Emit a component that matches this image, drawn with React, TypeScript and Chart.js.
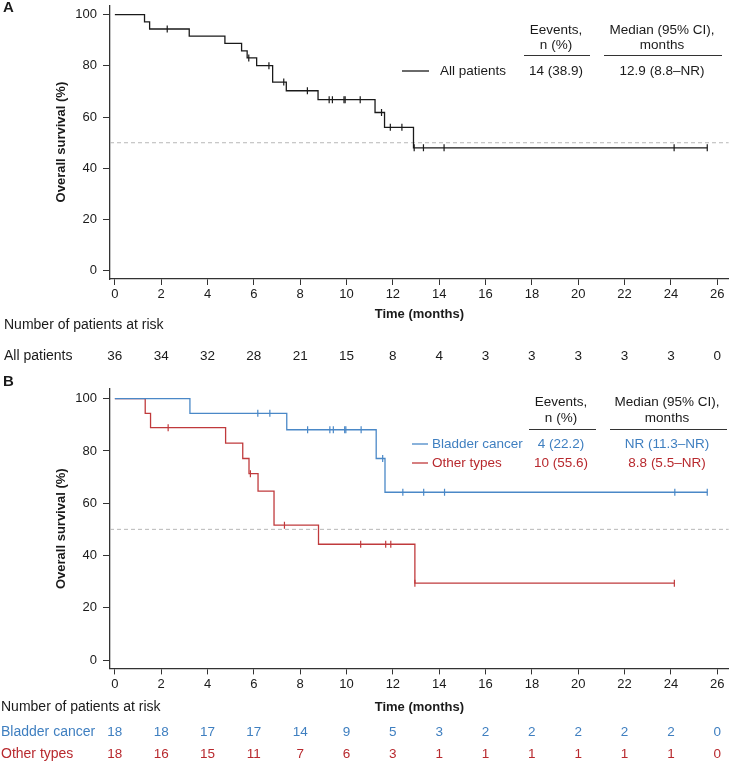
import React, { useEffect, useRef } from "react";
import { Chart, registerables } from "chart.js";

Chart.register(...registerables);

const FONT = "'Liberation Sans', Arial, Helvetica, sans-serif";
Chart.defaults.font.family = FONT;

// ---------- shared axes ----------
const timeTicks = [0, 2, 4, 6, 8, 10, 12, 14, 16, 18, 20, 22, 24, 26];
const survivalTicks = [0, 20, 40, 60, 80, 100];
const xRange = [-0.21, 26.5];
const yRange = [-3.2, 103.7];
const medianLevel = 50;

// ---------- Panel A: all patients ----------
const allTimes = [0, 1.28, 1.5, 3.21, 4.75, 5.47, 5.71, 6.12, 6.81, 7.4, 8.77, 11.23, 11.64, 12.89, 25.57];
const allSurv = [100, 97.2, 94.4, 91.6, 88.8, 85.9, 83.1, 80.1, 73.7, 70.3, 66.8, 61.8, 56.0, 48.0, 48.0];
const allCensorTimes = [2.26, 5.78, 6.65, 7.29, 8.31, 9.25, 9.39, 9.89, 9.94, 10.59, 11.51, 11.89, 12.39, 12.92, 13.32, 14.21, 24.14, 25.57];
const riskAll = [36, 34, 32, 28, 21, 15, 8, 4, 3, 3, 3, 3, 3, 0];

// ---------- Panel B: bladder cancer vs other types ----------
const bladderTimes = [0, 3.24, 7.42, 11.28, 11.66, 25.57];
const bladderSurv = [100, 94.4, 88.1, 77.1, 64.2, 64.2];
const bladderCensorTimes = [6.17, 6.69, 8.32, 9.28, 9.43, 9.92, 9.97, 10.63, 11.56, 12.43, 13.33, 14.23, 24.17, 25.57];
const otherTimes = [0, 1.31, 1.54, 4.78, 5.52, 5.79, 6.18, 6.87, 8.79, 12.95, 24.15];
const otherSurv = [100, 94.4, 88.9, 83.0, 77.1, 71.3, 64.6, 51.6, 44.3, 29.4, 29.4];
const otherCensorTimes = [2.3, 5.85, 7.32, 10.61, 11.69, 11.91, 12.95, 24.15];
const riskBladder = [18, 18, 17, 17, 14, 9, 5, 3, 2, 2, 2, 2, 2, 0];
const riskOther = [18, 16, 15, 11, 7, 6, 3, 1, 1, 1, 1, 1, 1, 0];

// ---------- text ----------
const eventsHeader = ["Eevents,", "n (%)"];
const medianHeader = ["Median (95% CI),", "months"];
const groupA = "All patients";
const eventsA = "14 (38.9)";
const medianA = "12.9 (8.8–NR)";
const groupsB = ["Bladder cancer", "Other types"];
const eventsB = ["4 (22.2)", "10 (55.6)"];
const mediansB = ["NR (11.3–NR)", "8.8 (5.5–NR)"];
const riskTitle = "Number of patients at risk";
const yTitle = "Overall survival (%)";
const xTitle = "Time (months)";

// ---------- colours ----------
const BLACK = "#1a1a1a";
const AXIS = "#333333";
const BLUE_LINE = "#4a88c7";
const RED_LINE = "#c03a3c";
const BLUE_TEXT = "#3f7fc0";
const RED_TEXT = "#b8292e";

function survAt(times: number[], surv: number[], t: number) {
  let s = surv[0];
  for (let i = 0; i < times.length; i++) if (times[i] <= t) s = surv[i];
  return s;
}

function kmDatasets(times: number[], surv: number[], censors: number[], color: string) {
  return [
    {
      type: "line",
      data: times.map((t, i) => ({ x: t, y: surv[i] })),
      stepped: true,
      borderColor: color,
      borderWidth: 1.3,
      pointRadius: 0,
      fill: false,
      order: 2,
    },
    {
      type: "line",
      showLine: false,
      data: censors.map((t) => ({ x: t, y: survAt(times, surv, t) })),
      pointStyle: "line",
      rotation: 90,
      pointRadius: 3.5,
      borderColor: color,
      pointBorderColor: color,
      pointBorderWidth: 1.2,
      order: 1,
    },
  ];
}

function medianDataset() {
  return {
    type: "line",
    data: [
      { x: xRange[0], y: medianLevel },
      { x: xRange[1], y: medianLevel },
    ],
    borderColor: "#b8b8b8",
    borderDash: [4, 3],
    borderWidth: 1,
    pointRadius: 0,
    order: 5,
  };
}

function drawText(
  ctx: CanvasRenderingContext2D,
  s: string,
  x: number,
  y: number,
  opts: { align?: CanvasTextAlign; color?: string; size?: number; bold?: boolean } = {}
) {
  const { align = "left", color = BLACK, size = 13.5, bold = false } = opts;
  ctx.font = `${bold ? "bold " : ""}${size}px ${FONT}`;
  ctx.fillStyle = color;
  ctx.textAlign = align;
  ctx.textBaseline = "middle";
  ctx.fillText(s, x, y);
}

function hline(ctx: CanvasRenderingContext2D, x1: number, x2: number, y: number, color: string, w = 1) {
  ctx.strokeStyle = color;
  ctx.lineWidth = w;
  ctx.beginPath();
  ctx.moveTo(x1, y);
  ctx.lineTo(x2, y);
  ctx.stroke();
}

function makeOptions(padding: any, xHeight: number) {
  return {
    responsive: false,
    animation: false,
    events: [],
    layout: { padding },
    plugins: { legend: { display: false }, tooltip: { enabled: false } },
    scales: {
      x: {
        type: "linear",
        min: xRange[0],
        max: xRange[1],
        afterBuildTicks: (axis: any) => {
          axis.ticks = timeTicks.map((v) => ({ value: v }));
        },
        afterFit: (axis: any) => {
          axis.height = xHeight;
          axis.paddingLeft = 0;
          axis.paddingRight = 0;
        },
        grid: { drawOnChartArea: false, drawTicks: true, tickLength: 6, color: AXIS, lineWidth: 1 },
        border: { display: true, color: AXIS, width: 1.3 },
        ticks: {
          padding: 2,
          maxRotation: 0,
          autoSkip: false,
          color: BLACK,
          font: { size: 13 },
          callback: (v: any) => String(v),
        },
        title: {
          display: true,
          text: xTitle,
          color: BLACK,
          font: { size: 13, weight: "bold" },
          padding: { top: 0, bottom: 0 },
        },
      },
      y: {
        type: "linear",
        min: yRange[0],
        max: yRange[1],
        afterBuildTicks: (axis: any) => {
          axis.ticks = survivalTicks.map((v) => ({ value: v }));
        },
        afterFit: (axis: any) => {
          axis.width = 110;
          axis.paddingTop = 0;
          axis.paddingBottom = 0;
        },
        grid: { drawOnChartArea: false, drawTicks: true, tickLength: 7, color: AXIS, lineWidth: 1 },
        border: { display: true, color: AXIS, width: 1.3 },
        ticks: { padding: 6, color: BLACK, font: { size: 13 }, callback: (v: any) => String(v) },
        title: {
          display: true,
          text: yTitle,
          color: BLACK,
          font: { size: 13, weight: "bold" },
          padding: { top: 54, bottom: 0 },
        },
      },
    },
  };
}

const panelAPlugin = {
  id: "panelADecor",
  afterDraw(chart: any) {
    const ctx = chart.ctx as CanvasRenderingContext2D;
    const xs = chart.scales.x;
    ctx.save();
    drawText(ctx, "A", 3, 8, { bold: true, size: 15 });
    // legend table
    drawText(ctx, eventsHeader[0], 556, 30, { align: "center" });
    drawText(ctx, eventsHeader[1], 556, 45, { align: "center" });
    drawText(ctx, medianHeader[0], 662, 30, { align: "center" });
    drawText(ctx, medianHeader[1], 662, 45, { align: "center" });
    hline(ctx, 524, 590, 55.5, AXIS);
    hline(ctx, 604, 722, 55.5, AXIS);
    hline(ctx, 402, 429, 71, BLACK, 1.3);
    drawText(ctx, groupA, 440, 71);
    drawText(ctx, eventsA, 556, 71, { align: "center" });
    drawText(ctx, medianA, 662, 71, { align: "center" });
    // risk table
    drawText(ctx, riskTitle, 4, 325, { size: 14 });
    drawText(ctx, groupA, 4, 356, { size: 14 });
    timeTicks.forEach((t, i) => {
      drawText(ctx, String(riskAll[i]), xs.getPixelForValue(t), 356, { align: "center", size: 13.5 });
    });
    ctx.restore();
  },
};

const panelBPlugin = {
  id: "panelBDecor",
  afterDraw(chart: any) {
    const ctx = chart.ctx as CanvasRenderingContext2D;
    const xs = chart.scales.x;
    ctx.save();
    drawText(ctx, "B", 3, 7, { bold: true, size: 15 });
    drawText(ctx, eventsHeader[0], 561, 27, { align: "center" });
    drawText(ctx, eventsHeader[1], 561, 43, { align: "center" });
    drawText(ctx, medianHeader[0], 667, 27, { align: "center" });
    drawText(ctx, medianHeader[1], 667, 43, { align: "center" });
    hline(ctx, 529, 596, 54.5, AXIS);
    hline(ctx, 610, 727, 54.5, AXIS);
    const rowY = [69, 88];
    const lineCols = [BLUE_LINE, RED_LINE];
    const textCols = [BLUE_TEXT, RED_TEXT];
    rowY.forEach((y, i) => {
      hline(ctx, 412, 428, y, lineCols[i], 1.3);
      drawText(ctx, groupsB[i], 432, y, { color: textCols[i] });
      drawText(ctx, eventsB[i], 561, y, { align: "center", color: textCols[i] });
      drawText(ctx, mediansB[i], 667, y, { align: "center", color: textCols[i] });
    });
    // risk table
    drawText(ctx, riskTitle, 1, 332, { size: 14 });
    const risks = [riskBladder, riskOther];
    const riskY = [357, 379];
    risks.forEach((row, r) => {
      drawText(ctx, groupsB[r], 1, riskY[r], { size: 14, color: textCols[r] });
      timeTicks.forEach((t, i) => {
        drawText(ctx, String(row[i]), xs.getPixelForValue(t), riskY[r], {
          align: "center",
          size: 13.5,
          color: textCols[r],
        });
      });
    });
    ctx.restore();
  },
};

export default function App() {
  const refA = useRef<HTMLCanvasElement | null>(null);
  const refB = useRef<HTMLCanvasElement | null>(null);

  useEffect(() => {
    const chartA = new Chart(refA.current as HTMLCanvasElement, {
      type: "line",
      data: {
        datasets: [medianDataset(), ...kmDatasets(allTimes, allSurv, allCensorTimes, BLACK)] as any,
      },
      options: makeOptions({ top: 0, right: 0, left: 0, bottom: 53.2 }, 42.8) as any,
      plugins: [panelAPlugin],
    });
    const chartB = new Chart(refB.current as HTMLCanvasElement, {
      type: "line",
      data: {
        datasets: [
          medianDataset(),
          ...kmDatasets(bladderTimes, bladderSurv, bladderCensorTimes, BLUE_LINE),
          ...kmDatasets(otherTimes, otherSurv, otherCensorTimes, RED_LINE),
        ] as any,
      },
      options: makeOptions({ top: 14, right: 0, left: 0, bottom: 47.2 }, 46.4) as any,
      plugins: [panelBPlugin],
    });
    return () => {
      chartA.destroy();
      chartB.destroy();
    };
  }, []);

  return (
    <div style={{ position: "fixed", left: 0, top: 0, width: 734, height: 762, background: "#fff" }}>
      <canvas
        ref={refA}
        width={734}
        height={375}
        style={{ position: "absolute", left: 0, top: 0, width: 734, height: 375 }}
      />
      <canvas
        ref={refB}
        width={734}
        height={387}
        style={{ position: "absolute", left: 0, top: 375, width: 734, height: 387 }}
      />
    </div>
  );
}
